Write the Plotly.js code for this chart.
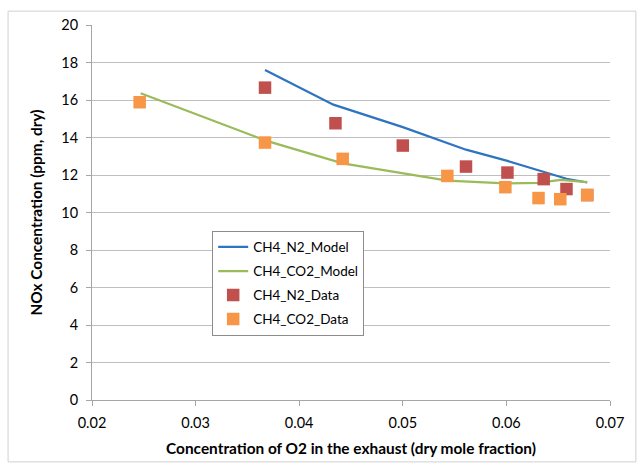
<!DOCTYPE html>
<html>
<head>
<meta charset="utf-8">
<script src="https://cdn.plot.ly/plotly-3.0.1.min.js"></script>
<style>html,body{margin:0;padding:0;background:#fff}#chart{width:644px;height:470px}</style>
</head>
<body>
<div id="chart"></div>
<script>
// Values
const n2ModelX = [0.0367, 0.0433, 0.0500, 0.0561, 0.0601, 0.0636, 0.0658, 0.0678];
const n2ModelY = [17.6, 15.75, 14.55, 13.35, 12.75, 12.15, 11.8, 11.6];
const co2ModelX = [0.0247, 0.0367, 0.0442, 0.0543, 0.0599, 0.0631, 0.0652, 0.0678];
const co2ModelY = [16.36, 13.85, 12.62, 11.7, 11.55, 11.58, 11.74, 11.62];
const n2DataX = [0.0367, 0.0435, 0.0500, 0.0561, 0.0601, 0.0636, 0.0658, 0.0678];
const n2DataY = [16.66, 14.76, 13.57, 12.45, 12.13, 11.78, 11.25, 10.93];
const co2DataX = [0.0246, 0.0367, 0.0442, 0.0543, 0.0599, 0.0631, 0.0652, 0.0678];
const co2DataY = [15.88, 13.73, 12.86, 11.95, 11.35, 10.77, 10.71, 10.93];
const seriesNames = ['CH4_N2_Model', 'CH4_CO2_Model', 'CH4_N2_Data', 'CH4_CO2_Data'];
const xTitle = 'Concentration of O2 in the exhaust (dry mole fraction)';
const yTitle = 'NOx Concentration (ppm, dry)';

const FONT = 'Lato, "Open Sans", sans-serif';
const traces = [
  {x: n2ModelX, y: n2ModelY, name: seriesNames[0], mode: 'lines', legendgroup: 'a',
   line: {color: '#2f74c0', width: 2.25}},
  {x: co2ModelX, y: co2ModelY, name: seriesNames[1], mode: 'lines', legendgroup: 'b',
   line: {color: '#9bbb59', width: 2.25}},
  {x: n2DataX, y: n2DataY, name: seriesNames[2], mode: 'markers', legendgroup: 'c',
   marker: {symbol: 'square', size: 12.5, color: '#c0504d'}},
  {x: co2DataX, y: co2DataY, name: seriesNames[3], mode: 'markers', legendgroup: 'd',
   marker: {symbol: 'square', size: 12.5, color: '#f79646'}}
];

const layout = {
  width: 644, height: 470,
  margin: {l: 92, r: 34, t: 25, b: 70},
  paper_bgcolor: '#ffffff', plot_bgcolor: '#ffffff',
  font: {family: FONT, size: 14.5, color: '#000'},
  showlegend: true,
  legend: {x: 0.232, y: 0.4515, xanchor: 'left', yanchor: 'top',
    bordercolor: '#8c8c8c', borderwidth: 1, bgcolor: '#fff',
    font: {family: FONT, size: 13.5, color: '#000'}, tracegroupgap: 3.5, itemwidth: 30},
  xaxis: {range: [0.02, 0.07], dtick: 0.01, tick0: 0.02, tickformat: '.2f',
    showgrid: false, zeroline: false, showline: true, linecolor: '#a6a6a6', linewidth: 1,
    ticks: 'outside', ticklen: 5, tickcolor: '#a6a6a6', ticklabelstandoff: 5,
    tickfont: {family: FONT, size: 14.5, color: '#000'},
    title: {text: '<b>' + xTitle + '</b>', font: {family: FONT, size: 15.4}, standoff: 12}},
  yaxis: {range: [0, 20], dtick: 2, tick0: 0,
    showgrid: true, gridcolor: '#bfbfbf', gridwidth: 1, zeroline: false,
    showline: true, linecolor: '#a6a6a6', linewidth: 1,
    ticks: 'outside', ticklen: 5, tickcolor: '#a6a6a6', ticklabelstandoff: 5,
    tickfont: {family: FONT, size: 14.5, color: '#000'},
    title: {text: '<b>' + yTitle + '</b>', font: {family: FONT, size: 15.4}, standoff: 14}},
  shapes: [
    {type: 'rect', xref: 'paper', yref: 'paper', x0: -0.162, x1: 1.050, y0: -0.165, y1: 1.037,
     line: {color: '#d0d0d0', width: 1}, fillcolor: 'rgba(0,0,0,0)', layer: 'below'}
  ]
};

Plotly.newPlot('chart', traces, layout, {displayModeBar: false, staticPlot: true});
</script>
</body>
</html>
